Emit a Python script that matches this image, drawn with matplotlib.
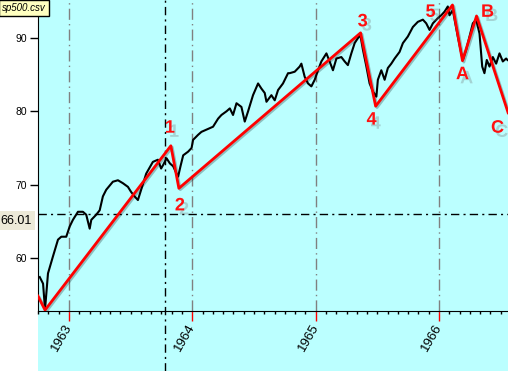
import matplotlib.pyplot as plt
import matplotlib.patheffects as pe
from matplotlib.patches import Rectangle
from matplotlib.ticker import MultipleLocator

# index close (decimal year, value)
t = [1962.763, 1962.790, 1962.806, 1962.830, 1962.870, 1962.911, 1962.938, 1962.978,
     1963.006, 1963.032, 1963.073, 1963.113, 1963.140, 1963.168, 1963.181, 1963.221,
     1963.249, 1963.275, 1963.302, 1963.356, 1963.397, 1963.437, 1963.478, 1963.504,
     1963.532, 1963.559, 1963.585, 1963.626, 1963.680, 1963.721, 1963.747, 1963.764,
     1963.791, 1963.818, 1963.845, 1963.872, 1963.885, 1963.904, 1963.926, 1963.966,
     1963.994, 1964.006, 1964.047, 1964.074, 1964.115, 1964.168, 1964.209, 1964.236,
     1964.277, 1964.304, 1964.330, 1964.358, 1964.398, 1964.425, 1964.452, 1964.492,
     1964.533, 1964.560, 1964.587, 1964.601, 1964.641, 1964.668, 1964.695, 1964.735,
     1964.776, 1964.789, 1964.830, 1964.870, 1964.884, 1964.911, 1964.938, 1964.965,
     1964.992, 1965.019, 1965.046, 1965.087, 1965.113, 1965.140, 1965.168, 1965.208,
     1965.235, 1965.261, 1965.289, 1965.316, 1965.343, 1965.362, 1965.383, 1965.411,
     1965.437, 1965.464, 1965.492, 1965.504, 1965.532, 1965.559, 1965.585, 1965.613,
     1965.640, 1965.680, 1965.707, 1965.747, 1965.788, 1965.828, 1965.869, 1965.896,
     1965.923, 1965.950, 1965.990, 1966.018, 1966.045, 1966.071, 1966.085, 1966.112,
     1966.126, 1966.152, 1966.180, 1966.193, 1966.220, 1966.247, 1966.274, 1966.301,
     1966.328, 1966.350, 1966.368, 1966.387, 1966.409, 1966.436, 1966.463, 1966.490,
     1966.517, 1966.544, 1966.555]
close = [57.4, 56.5, 53.0, 57.9, 60.2, 62.5, 62.9, 62.9,
         64.3, 65.2, 66.3, 66.3, 65.9, 64.0, 65.2, 65.9,
         66.5, 68.4, 69.3, 70.4, 70.6, 70.2, 69.7, 69.0,
         68.4, 67.9, 69.3, 71.5, 73.1, 73.4, 72.2, 72.7,
         73.6, 72.9, 72.5, 71.5, 71.1, 72.5, 74.0, 74.5,
         75.0, 76.1, 76.8, 77.2, 77.5, 77.9, 79.0, 79.5,
         80.0, 80.4, 79.5, 81.1, 80.6, 78.6, 80.0, 82.2,
         83.8, 83.1, 82.5, 81.3, 82.2, 81.5, 82.9, 83.8,
         85.2, 85.2, 85.4, 86.1, 86.5, 84.7, 83.8, 83.4,
         84.3, 85.6, 86.8, 87.9, 86.8, 85.6, 87.2, 87.4,
         86.8, 86.3, 87.9, 89.3, 90.0, 90.4, 88.4, 86.1,
         83.8, 82.7, 82.0, 84.3, 85.6, 84.3, 85.9, 86.5,
         87.2, 88.1, 89.3, 90.2, 91.5, 92.2, 92.5, 92.0,
         91.1, 92.0, 92.7, 93.1, 93.6, 94.3, 93.1, 93.8,
         92.5, 90.2, 87.9, 87.0, 88.4, 90.2, 92.0, 92.5,
         90.6, 86.1, 85.2, 87.0, 86.1, 87.4, 86.5, 87.9,
         86.8, 87.2, 87.0]

# wave count
wave_t = [1962.749, 1962.806, 1963.826, 1963.891, 1965.364, 1965.486, 1966.109, 1966.190, 1966.304, 1966.560]
wave_v = [54.8, 52.9, 75.3, 69.5, 90.7, 80.7, 94.5, 86.9, 93.0, 79.8]
labels = ['1', '2', '3', '4', '5', 'A', 'B', 'C']
label_t = [1963.818, 1963.899, 1965.381, 1965.453, 1965.931, 1966.190, 1966.393, 1966.474]
label_v = [77.7, 67.1, 92.2, 78.8, 93.5, 85.0, 93.5, 77.7]

years = [1963, 1964, 1965, 1966]
cross_t = 1963.777
cross_v = 66.01

cyan = '#bbffff'
fig = plt.figure(figsize=(5.08, 3.71), dpi=100)
fig.patches.append(Rectangle((38 / 508, 0), 470 / 508, 1, transform=fig.transFigure,
                             facecolor=cyan, edgecolor='none', zorder=-5))
ax = fig.add_axes([38 / 508, 60 / 371, 470 / 508, 311 / 371])
ax.set_facecolor(cyan)
ax.set_xlim(1962.749, 1966.559)
ax.set_ylim(52.77, 95.18)
for s in ['top', 'right']:
    ax.spines[s].set_visible(False)

for y in years:
    ax.axvline(y, color='#808080', lw=1, ls=(0, (8, 3, 1, 3)), zorder=1)
ax.axvline(cross_t, ymin=-60 / 311, ymax=1, clip_on=False, color='black', lw=1,
           ls=(0, (6, 3, 1.5, 3)), zorder=2)
ax.axhline(cross_v, color='black', lw=1, ls=(0, (6, 3, 1.5, 3)), zorder=2)

ax.plot(t, close, color='black', lw=1.5, zorder=3)
ax.plot(wave_t, wave_v, color='#ff0000', lw=2.0, zorder=4,
        path_effects=[pe.SimpleLineShadow(offset=(1, -1), shadow_color='black', alpha=0.25),
                      pe.Normal()])
for lab, x, y in zip(labels, label_t, label_v):
    ax.text(x, y, lab, color='#ff1010', fontsize=13, fontweight='bold', ha='center', va='center',
            family='Liberation Sans', zorder=5,
            path_effects=[pe.withSimplePatchShadow(offset=(3, -3), shadow_rgbFace='#707070', alpha=0.3)])

ax.set_yticks([60, 70, 80, 90])
ax.tick_params(axis='y', length=6, width=1, labelsize=7.5, colors='black', pad=2)
ax.set_xticks(years)
ax.set_xticklabels([str(y) for y in years], rotation=60, ha='right', va='center',
                   rotation_mode='anchor', fontsize=9.5, family='Liberation Sans')
ax.xaxis.set_minor_locator(MultipleLocator(1 / 12))
ax.tick_params(axis='x', which='major', length=7, width=1, color='red', pad=3)
ax.tick_params(axis='x', which='minor', length=2.5, width=1, color='black')
for lab in ax.get_yticklabels():
    lab.set_family('Liberation Sans')

fig.text(0.5 / 508, (371 - 213 - 7.5) / 371, '66.01', fontsize=9, family='Liberation Sans',
         va='center', ha='left',
         bbox=dict(boxstyle='square,pad=0.25', facecolor='#ece9d8', edgecolor='none'))
fig.text(2 / 508, 1 - 8 / 371, 'sp500.csv', fontsize=7, style='italic', family='Liberation Sans',
         va='center', ha='left',
         bbox=dict(boxstyle='square,pad=0.3', facecolor='#ffffc0', edgecolor='black', lw=1))

fig.savefig('out.png', dpi=100)
